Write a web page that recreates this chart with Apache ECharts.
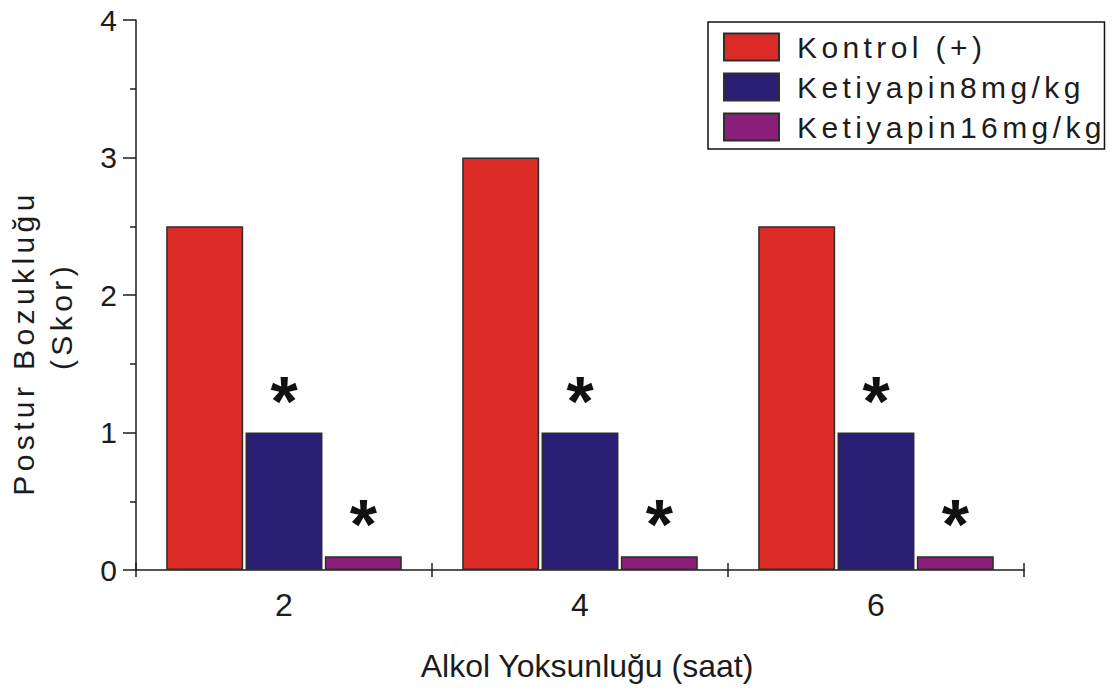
<!DOCTYPE html>
<html>
<head>
<meta charset="utf-8">
<script src="https://cdn.jsdelivr.net/npm/echarts@6/dist/echarts.min.js"></script>
<style>
  html, body { margin: 0; padding: 0; background: #fff; }
  #chart { width: 1114px; height: 695px; }
  /* widely tracked lettering for the legend and the vertical title */
  #chart text[style*="Arial"] { letter-spacing: 4.4px; }
</style>
</head>
<body>
<div id="chart"></div>
<script>
// Withdrawal time points (hours)
const categories = ['2', '4', '6'];
// Posture impairment scores per group
const kontrol = [2.5, 3, 2.5];
const ketiyapin8 = [1, 1, 1];
const ketiyapin16 = [0.1, 0.1, 0.1];
// Significance marks above the treated groups
const marks8 = ['*', '*', '*'];
const marks16 = ['*', '*', '*'];
// Series names
const seriesNames = ['Kontrol (+)', 'Ketiyapin8mg/kg', 'Ketiyapin16mg/kg'];
const xTitle = 'Alkol Yoksunluğu (saat)';
const yTitleLines = ['Postur Bozukluğu', '(Skor)'];

const FONT = "'Liberation Sans'";
const FONT_SPACED = "'Liberation Sans', Arial";
const INK = '#1c1c1c';
const EDGE = '#2e2e2e';

const chart = echarts.init(document.getElementById('chart'), null, { renderer: 'svg' });

const starLabel = (marks) => ({
  show: true,
  position: 'top',
  distance: -4,
  formatter: (p) => marks[p.dataIndex],
  fontFamily: FONT,
  fontWeight: 'bold',
  fontSize: 70,
  color: '#111'
});

const barItem = (color) => ({ color: color, borderColor: EDGE, borderWidth: 1.5 });

chart.setOption({
  animation: false,
  backgroundColor: '#fff',
  grid: { left: 136, right: 90, top: 20, bottom: 125, outerBoundsMode: 'none' },
  legend: {
    data: seriesNames,
    orient: 'vertical',
    left: 708,
    top: 22,
    padding: [10, 69, 7, 15],
    itemGap: 10,
    itemWidth: 55,
    itemHeight: 27,
    icon: 'rect',
    borderColor: '#111',
    borderWidth: 1.5,
    selectedMode: false,
    textStyle: {
      fontFamily: FONT_SPACED,
      fontSize: 30,
      lineHeight: 27,
      color: INK,
      padding: [0, 0, 0, 13]
    }
  },
  xAxis: [
    {
      type: 'category',
      data: categories,
      position: 'bottom',
      boundaryGap: true,
      axisLine: { lineStyle: { color: INK, width: 1.5 } },
      axisTick: { show: true, length: 7, inside: false, lineStyle: { color: INK, width: 1.5 } },
      axisLabel: { fontFamily: FONT, fontSize: 32, color: INK, margin: 19 },
      name: xTitle,
      nameLocation: 'middle',
      nameGap: 80,
      nameTextStyle: { fontFamily: FONT, fontSize: 32, color: INK, padding: [0, 0, 0, 14] }
    },
    {
      // same scale, ticks drawn on the inner side so they cross the axis line
      type: 'category',
      data: categories,
      position: 'bottom',
      offset: 0,
      boundaryGap: true,
      axisLine: { show: false },
      axisTick: { show: true, length: 7, inside: true, lineStyle: { color: INK, width: 1.5 } },
      axisLabel: { show: false }
    }
  ],
  yAxis: {
    type: 'value',
    min: 0,
    max: 4,
    interval: 1,
    axisLine: { show: true, lineStyle: { color: INK, width: 1.5 } },
    axisTick: { show: true, length: 13, lineStyle: { color: INK, width: 1.5 } },
    minorTick: { show: true, splitNumber: 2, length: 6, lineStyle: { color: INK, width: 1.5 } },
    splitLine: { show: false },
    axisLabel: { fontFamily: FONT, fontSize: 30, color: INK, margin: 19 }
  },
  graphic: [
    {
      type: 'text',
      x: 23, y: 343,
      rotation: Math.PI / 2,
      style: {
        text: yTitleLines[0],
        fontFamily: FONT_SPACED,
        fontSize: 30,
        fill: INK,
        align: 'center',
        verticalAlign: 'middle'
      }
    },
    {
      type: 'text',
      x: 61, y: 316,
      rotation: Math.PI / 2,
      style: {
        text: yTitleLines[1],
        fontFamily: FONT_SPACED,
        fontSize: 30,
        fill: INK,
        align: 'center',
        verticalAlign: 'middle'
      }
    }
  ],
  series: [
    {
      name: seriesNames[0],
      type: 'bar',
      data: kontrol,
      barWidth: 77,
      barGap: '3%',
      itemStyle: barItem('#dc2a27')
    },
    {
      name: seriesNames[1],
      type: 'bar',
      data: ketiyapin8,
      barWidth: 77,
      barGap: '3%',
      itemStyle: barItem('#2a1e74'),
      label: starLabel(marks8)
    },
    {
      name: seriesNames[2],
      type: 'bar',
      data: ketiyapin16,
      barWidth: 77,
      barGap: '3%',
      itemStyle: barItem('#891f78'),
      label: starLabel(marks16)
    }
  ]
});
</script>
</body>
</html>
